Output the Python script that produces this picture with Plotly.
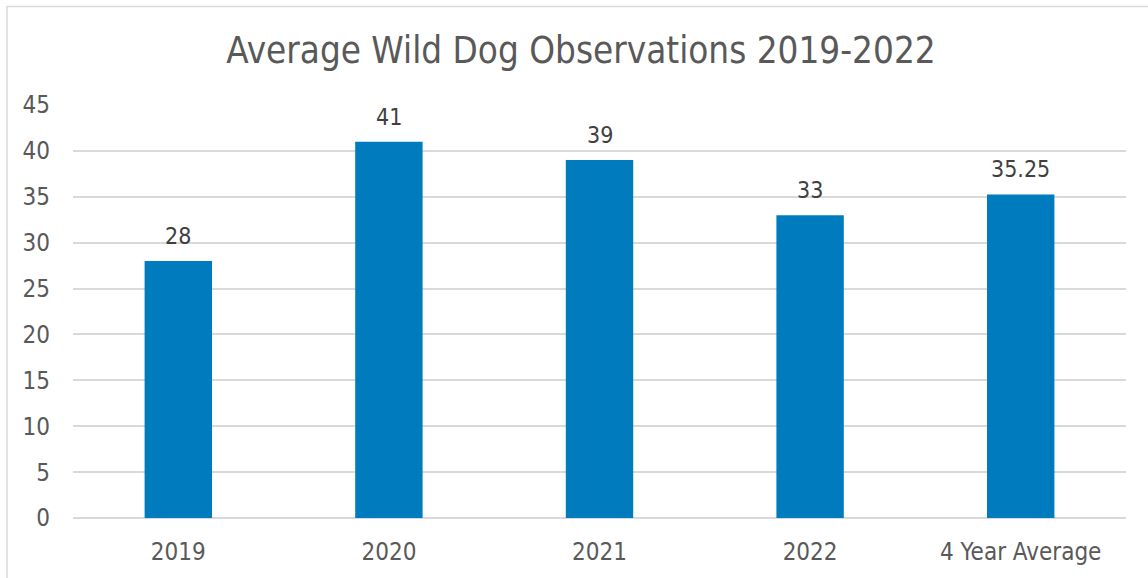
import plotly.graph_objects as go

categories = ["2019", "2020", "2021", "2022", "4 Year Average"]
observations = [28, 41, 39, 33, 35.25]
y_ticks = [0, 5, 10, 15, 20, 25, 30, 35, 40, 45]

W, H = 1148, 578
L, R, T, B = 73, 22, 105, 58
FONT = "DejaVu Sans Condensed, DejaVu Sans, sans-serif"

fig = go.Figure(
    go.Bar(
        x=categories,
        y=observations,
        marker=dict(color="#007CBE", line=dict(width=0)),
        width=0.32,
    )
)

# value labels above each bar (x given as category index)
for i, val in enumerate(observations):
    fig.add_annotation(
        x=i, y=val, text=f"{val:g}", showarrow=False,
        yanchor="bottom", yshift=10,
        font=dict(family=FONT, size=23, color="#404040"),
    )

pw = W - L - R
ph = H - T - B
# chart frame (light border around the whole chart area)
fig.add_shape(
    type="rect", xref="paper", yref="paper",
    x0=(7 - L) / pw, x1=(W + 20 - L) / pw,
    y0=-(B + 20) / ph, y1=1 + (T - 6) / ph,
    line=dict(color="#D9D9D9", width=1.5), fillcolor="rgba(0,0,0,0)",
    layer="below",
)

fig.update_layout(
    width=W, height=H,
    margin=dict(l=L, r=R, t=T, b=B),
    paper_bgcolor="white", plot_bgcolor="white",
    showlegend=False,
    title=dict(
        text="Average Wild Dog Observations 2019-2022",
        font=dict(family=FONT, size=36.5, color="#595959"),
        x=581 / W, xanchor="center",
        y=1 - 50 / H, yanchor="middle",
    ),
    xaxis=dict(
        type="category",
        range=[-0.5, len(categories) - 0.5],
        showgrid=False, showline=False, zeroline=False,
        tickfont=dict(family=FONT, size=24, color="#595959"),
        ticklabelstandoff=17,
    ),
    yaxis=dict(
        range=[0, 45], tickvals=y_ticks,
        showgrid=True, gridcolor="#D9D9D9", gridwidth=1.5,
        zeroline=True, zerolinecolor="#D9D9D9", zerolinewidth=1.5,
        showline=False,
        tickfont=dict(family=FONT, size=24, color="#595959"),
        ticklabelstandoff=22,
    ),
)

fig.write_html("out.html")
